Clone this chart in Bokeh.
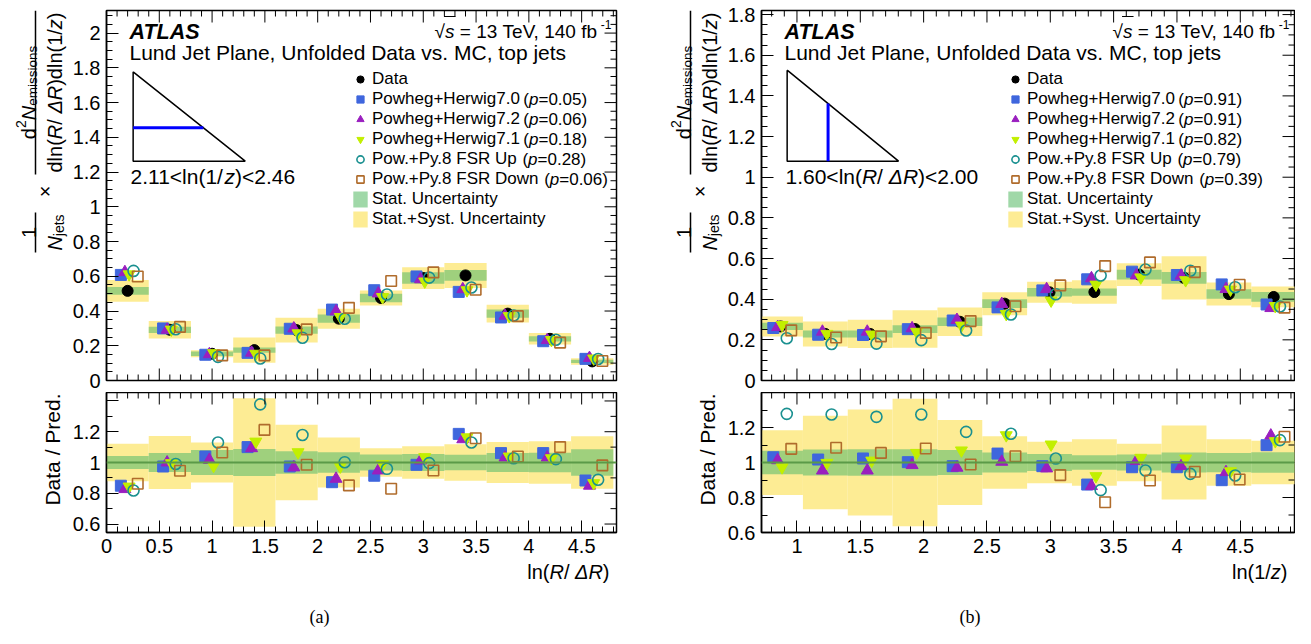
import math
import numpy as np
from bokeh.plotting import figure
from bokeh.layouts import row, column
from bokeh.models import (Range1d, Label, Legend, LegendItem, Span, SingleIntervalTicker,
                          CustomJSTickFormatter, Arrow)
from bokeh.embed import file_html
from bokeh.resources import INLINE

# ---------------- data : panel (a)  2.11 < ln(1/z) < 2.46, versus ln(R/dR) ----------------
edges_a = [0.0, 0.4, 0.8, 1.2, 1.6, 2.0, 2.4, 2.8, 3.2, 3.6, 4.0, 4.4, 4.8]
data_a = [0.516, 0.292, 0.154, 0.175, 0.290, 0.356, 0.475, 0.590, 0.605, 0.385, 0.240, 0.110]
stat_a = [0.043, 0.062, 0.081, 0.087, 0.073, 0.067, 0.052, 0.056, 0.051, 0.062, 0.064, 0.086]
tot_a = [0.122, 0.172, 0.130, 0.418, 0.245, 0.162, 0.092, 0.106, 0.119, 0.133, 0.138, 0.170]
ratio_a_h70 = [0.849, 0.974, 1.039, 1.100, 0.974, 0.872, 0.914, 0.985, 1.186, 1.061, 1.061, 0.883]
ratio_a_h72 = [0.827, 1.000, 1.017, 1.093, 0.968, 0.894, 0.948, 1.013, 1.151, 1.032, 1.032, 0.849]
ratio_a_h71 = [0.844, 0.996, 0.978, 1.136, 1.067, 0.974, 0.989, 1.035, 1.164, 1.039, 1.028, 0.866]
ratio_a_up = [0.818, 0.990, 1.130, 1.378, 1.179, 1.002, 0.959, 0.996, 1.130, 1.028, 1.022, 0.888]
ratio_a_down = [0.862, 0.946, 1.065, 1.212, 0.985, 0.851, 0.829, 0.948, 1.158, 1.039, 1.100, 0.981]
pvals_a = ["0.05", "0.06", "0.18", "0.28", "0.06"]

# ---------------- data : panel (b)  1.60 < ln(R/dR) < 2.00, versus ln(1/z) ----------------
edges_b = [0.693, 1.047, 1.401, 1.755, 2.109, 2.463, 2.817, 3.171, 3.525, 3.879, 4.233, 4.587, 4.941]
data_b = [0.266, 0.229, 0.229, 0.253, 0.289, 0.378, 0.434, 0.435, 0.521, 0.505, 0.425, 0.411]
stat_b = [0.067, 0.074, 0.076, 0.076, 0.072, 0.057, 0.048, 0.041, 0.046, 0.057, 0.055, 0.059]
tot_b = [0.185, 0.267, 0.303, 0.364, 0.243, 0.150, 0.118, 0.133, 0.107, 0.211, 0.133, 0.124]
ratio_b_h70 = [1.030, 1.017, 1.023, 1.002, 0.979, 1.051, 0.979, 0.874, 0.973, 0.973, 0.899, 1.099]
ratio_b_h72 = [1.013, 0.954, 0.954, 0.985, 0.970, 1.004, 0.966, 0.865, 1.008, 0.979, 0.945, 1.154]
ratio_b_h71 = [0.973, 0.998, 1.011, 1.055, 1.069, 1.156, 1.103, 0.922, 1.027, 1.023, 0.950, 1.122]
ratio_b_up = [1.278, 1.274, 1.261, 1.274, 1.175, 1.164, 1.023, 0.842, 0.954, 0.935, 0.926, 1.128]
ratio_b_down = [1.078, 1.084, 1.055, 1.080, 0.989, 1.036, 0.928, 0.773, 0.897, 0.947, 0.903, 1.147]
pvals_b = ["0.91", "0.91", "0.82", "0.79", "0.39"]

mc_names = ["Powheg+Herwig7.0", "Powheg+Herwig7.2", "Powheg+Herwig7.1",
            "Pow.+Py.8 FSR Up", "Pow.+Py.8 FSR Down"]

# ---------------- style ----------------
FONT = "Liberation Sans"
SERIF = "Liberation Serif"
YELLOW = "#fdec94"
GREEN = "#61be6e"
ONE_LINE = "#5b9a48"
NB = "\u00a0"
STYLES = [  # marker, colour, filled, size, offset (fraction of bin width)
    ("square", "#3f66dd", True, 11, -0.16),
    ("triangle", "#9a1fbf", True, 12, -0.065),
    ("inverted_triangle", "#c2ef00", True, 12, 0.035),
    ("circle", "#1a9090", False, 11, 0.14),
    ("square", "#b06c2c", False, 10.5, 0.24),
]

# Arial / Liberation Sans advance widths (em)
_W = {' ': .278, NB: .278, '(': .333, ')': .333, '+': .584, ',': .278, '-': .333, '.': .278,
      '/': .278, '<': .584, '=': .584, '>': .584, '\u00d7': .584, '\u221a': .549, '\u0394': .668}
for c in "0123456789":
    _W[c] = .556
_W.update(dict(zip("ABCDEFGHIJKLMNOPQRSTUVWXYZ",
                   [.667, .667, .722, .722, .667, .611, .778, .722, .278, .5, .667, .556, .833,
                    .722, .778, .667, .778, .722, .667, .611, .722, .667, .944, .667, .667, .611])))
_W.update(dict(zip("abcdefghijklmnopqrstuvwxyz",
                   [.556, .556, .5, .556, .556, .278, .556, .556, .222, .222, .5, .222, .833,
                    .556, .556, .556, .556, .333, .5, .278, .556, .5, .722, .5, .5, .5])))


def twidth(s, size):
    return sum(_W.get(c, .556) for c in s) * size


def add_text(p, FL, FB, runs, X, Y, align="left", rotated=False, baseline="alphabetic"):
    """runs: (text, size, style, shift[, font]); X,Y = page coords of the baseline anchor;
    FL, FB = page coords of the frame's left and bottom edges."""
    total = sum(twidth(r[0], r[1]) for r in runs)
    pos = {"left": 0.0, "center": -total / 2, "right": -total}[align]
    for r in runs:
        t, s, st, sh = r[:4]
        font = r[4] if len(r) > 4 else FONT
        if rotated:
            sx, sy, ang = (X - sh) - FL, FB - (Y - pos), math.pi / 2
        else:
            sx, sy, ang = X + pos - FL, FB - (Y - sh), 0.0
        p.add_layout(Label(x=sx, y=sy, x_units="screen", y_units="screen", text=t, angle=ang,
                           text_font=font, text_font_size=f"{s}px", text_font_style=st,
                           text_align="left", text_baseline=baseline, text_color="black"))
        pos += twidth(t, s)
    return total


def seg(p, FL, FB, X0, Y0, X1, Y1, w=1.5):
    p.add_layout(Arrow(end=None, x_start=X0 - FL, y_start=FB - Y0, x_end=X1 - FL, y_end=FB - Y1,
                       start_units="screen", end_units="screen", line_width=w, line_color="black"))


def tick_vals(lo, hi, step):
    k0 = math.ceil(lo / step - 1e-9)
    k1 = math.floor(hi / step + 1e-9)
    return [round(k * step, 6) for k in range(k0, k1 + 1)]


def mirror_ticks(p, xr, yr, FW, FH, xstep, xn, ystep, yn, sides, lmaj=12, lmin=6):
    x0, x1 = xr
    y0, y1 = yr
    dx = (x1 - x0) / FW
    dy = (y1 - y0) / FH
    xmaj = tick_vals(x0, x1, xstep)
    xmin = [v for v in tick_vals(x0, x1, xstep / xn) if all(abs(v - m) > 1e-6 for m in xmaj)]
    ymaj = tick_vals(y0, y1, ystep)
    ymin = [v for v in tick_vals(y0, y1, ystep / yn) if all(abs(v - m) > 1e-6 for m in ymaj)]
    a, b, c, d = [], [], [], []
    for side in sides:
        for vals, L in ((xmaj, lmaj), (xmin, lmin)) if side in ("top", "bottom") else ((ymaj, lmaj), (ymin, lmin)):
            for v in vals:
                if side == "bottom":
                    a.append(v); b.append(y0); c.append(v); d.append(y0 + L * dy)
                elif side == "top":
                    a.append(v); b.append(y1); c.append(v); d.append(y1 - L * dy)
                else:
                    a.append(x1); b.append(v); c.append(x1 - L * dx); d.append(v)
    p.segment(x0=a, y0=b, x1=c, y1=d, line_color="black", line_width=1)


def fmt(hide_above=99.0):
    return CustomJSTickFormatter(args=dict(h=hide_above), code="""
        const t = Math.round(tick*1000)/1000;
        if (t > h) { return ''; }
        return t.toString();""")


def style_axis(ax, lmaj=12, lmin=6):
    ax.major_tick_in = lmaj
    ax.major_tick_out = 0
    ax.minor_tick_in = lmin
    ax.minor_tick_out = 0
    ax.axis_line_width = 1.5
    ax.major_tick_line_width = 1
    ax.minor_tick_line_width = 1
    ax.major_label_text_font = FONT
    ax.major_label_text_font_size = "20px"
    ax.major_label_text_color = "black"
    ax.major_label_standoff = 6


def base_fig(w, h, xr, yr, bl, br, bt, bb, xaxis):
    p = figure(width=w, height=h, x_range=Range1d(*xr), y_range=Range1d(*yr),
               output_backend="svg", toolbar_location=None,
               x_axis_location="below" if xaxis else None,
               min_border_left=bl, min_border_right=br, min_border_top=bt, min_border_bottom=bb)
    p.grid.visible = False
    p.outline_line_color = "black"
    p.outline_line_width = 1.5
    p.background_fill_color = "white"
    p.border_fill_color = "white"
    return p


def strip(w, h, bl=0, br=0, bt=0, bb=0):
    s = figure(width=w, height=h, x_range=Range1d(0, 1), y_range=Range1d(0, 1),
               output_backend="svg", toolbar_location=None, x_axis_location=None,
               y_axis_location=None, min_border_left=bl, min_border_right=br,
               min_border_top=bt, min_border_bottom=bb)
    s.grid.visible = False
    s.outline_line_color = None
    s.background_fill_color = "white"
    s.border_fill_color = "white"
    return s


# page geometry (px)
FT, FB = 18, 388           # top pads
RT, RB = 400, 540          # ratio pads
PAGE_TOP, PAGE_BOT = 8, 636
STRIP_W = 69
LEG_X, LEG_Y, LEG_ROW, LEG_GW, LEG_SO, LEG_FS = 245, 151, 20, 18, 3, 17


def build_panel(edges, data, stat, tot, ratios, pvals, xr, yr_top, yr_rat,
                col_left, width, bl, br, inset, xtitle, caption, capx):
    edges = np.array(edges)
    lo, hi = edges[:-1], edges[1:]
    bw = hi - lo
    xc = 0.5 * (lo + hi)
    data = np.array(data)
    stat = np.array(stat)
    tot = np.array(tot)
    FL = col_left + bl
    FR = col_left + width - br
    FW = FR - FL

    # ---------------- top pad ----------------
    p = base_fig(width, 392, xr, yr_top, bl, br, FT - PAGE_TOP, 12, xaxis=False)
    p.yaxis.ticker = SingleIntervalTicker(interval=0.2, num_minor_ticks=4)
    p.yaxis.formatter = fmt()
    style_axis(p.yaxis[0])
    r_tot = p.quad(left=lo, right=hi, bottom=data * (1 - tot), top=data * (1 + tot),
                   fill_color=YELLOW, line_color=None)
    r_stat = p.quad(left=lo, right=hi, bottom=data * (1 - stat), top=data * (1 + stat),
                    fill_color=GREEN, fill_alpha=0.6, line_color=None)
    r_data = p.scatter(xc, data, marker="circle", size=11, fill_color="black", line_color="black")
    rends = []
    for (mk, col, filled, sz, off), rat in zip(STYLES, ratios):
        mc = data / np.array(rat)
        r = p.scatter(xc + off * bw, mc, marker=mk, size=sz,
                      fill_color=col if filled else None, line_color=col,
                      line_width=1 if filled else 1.6)
        rends.append(r)
    mirror_ticks(p, xr, yr_top, FW, FB - FT, 0.5, 5, 0.2, 4, ["bottom", "top", "right"])

    # legend: model names via Legend, "(p=...)" with italic p appended as labels
    items = [LegendItem(label="Data", renderers=[r_data])]
    for nm, r in zip(mc_names, rends):
        items.append(LegendItem(label=nm, renderers=[r]))
    items.append(LegendItem(label="Stat. Uncertainty", renderers=[r_stat]))
    items.append(LegendItem(label="Stat.+Syst. Uncertainty", renderers=[r_tot]))
    leg = Legend(items=items, location=(LEG_X, LEG_Y), glyph_width=LEG_GW, glyph_height=LEG_ROW,
                 label_height=LEG_ROW, label_standoff=LEG_SO, spacing=0, padding=0, margin=0,
                 border_line_color=None, background_fill_alpha=0,
                 label_text_font=FONT, label_text_font_size=f"{LEG_FS}px", label_text_color="black")
    p.add_layout(leg)
    n_items = len(items)
    for i, (nm, pv) in enumerate(zip(mc_names, pvals)):
        row_idx = i + 1
        yc_frame = LEG_Y + (n_items - row_idx - 0.5) * LEG_ROW
        Xp = FL + LEG_X + LEG_GW + LEG_SO + twidth(nm, LEG_FS) + 3
        add_text(p, FL, FB, [("(", LEG_FS, "normal", 0), ("p", LEG_FS, "italic", 0),
                             ("=" + pv + ")", LEG_FS, "normal", 0)],
                 Xp, FB - yc_frame, baseline="middle")

    # texts inside the pad
    add_text(p, FL, FB, [("ATLAS", 21.5, "bold italic", 0)], FL + 23, 39)
    add_text(p, FL, FB, [("Lund Jet Plane, Unfolded Data vs. MC, top jets", 21, "normal", 0)],
             FL + 23, 59.5)
    sq = [("\u221a", 19, "normal", 0), ("s", 19, "italic", 0),
          (NB + "=" + NB + "13" + NB + "TeV," + NB + "140" + NB + "fb", 19, "normal", 0),
          ("-1", 12, "normal", 7)]
    tot_w = add_text(p, FL, FB, sq, FR - 6, 39, align="right")
    x_s = FR - 6 - tot_w + twidth("\u221a", 19)
    seg(p, FL, FB, x_s - 1, 39 - 15, x_s + twidth("s", 19) + 1, 39 - 15, w=1.2)

    # inset triangle (Lund plane sketch)
    def d(X, Y):
        return (xr[0] + (X - FL) / FW * (xr[1] - xr[0]),
                yr_top[0] + (FB - Y) / (FB - FT) * (yr_top[1] - yr_top[0]))
    tri, bline, txt = inset
    pts = [d(*q) for q in tri + [tri[0]]]
    p.line([q[0] for q in pts], [q[1] for q in pts], line_color="black", line_width=1.5)
    s0, s1 = d(*bline[0]), d(*bline[1])
    p.line([s0[0], s1[0]], [s0[1], s1[1]], line_color="#0000ff", line_width=3)
    add_text(p, FL, FB, txt, FL + 24, 184)

    # ---------------- ratio pad ----------------
    q = base_fig(width, RB - FB - 12 + 30, xr, yr_rat, bl, br, 0, 30, xaxis=True)
    q.xaxis.ticker = SingleIntervalTicker(interval=0.5, num_minor_ticks=5)
    q.xaxis.formatter = fmt()
    q.yaxis.ticker = SingleIntervalTicker(interval=0.2, num_minor_ticks=2)
    q.yaxis.formatter = fmt(1.3)
    style_axis(q.xaxis[0])
    style_axis(q.yaxis[0])
    q.quad(left=lo, right=hi, bottom=1 - tot, top=1 + tot, fill_color=YELLOW, line_color=None)
    q.quad(left=lo, right=hi, bottom=1 - stat, top=1 + stat, fill_color=GREEN, fill_alpha=0.6,
           line_color=None)
    q.add_layout(Span(location=1.0, dimension="width", line_color=ONE_LINE, line_width=2))
    for (mk, col, filled, sz, off), rat in zip(STYLES, ratios):
        mc = data / np.array(rat)
        q.scatter(xc + off * bw, data / mc, marker=mk, size=sz,
                  fill_color=col if filled else None, line_color=col,
                  line_width=1 if filled else 1.6)
    mirror_ticks(q, xr, yr_rat, FW, RB - RT, 0.5, 5, 0.2, 2, ["top", "right"])

    # ---------------- bottom strip: x title + caption (frame aligned with the pads) -------------
    xs_top = RB + 30
    xs = strip(width, PAGE_BOT - xs_top, bl=bl, br=br)
    add_text(xs, FL, PAGE_BOT, xtitle, FR - 8, 579, align="right")
    add_text(xs, FL, PAGE_BOT, [(caption, 18, "normal", 0, SERIF)], capx, 624, align="center")

    # ---------------- left strip: y titles ----------------
    sl = FL - bl - STRIP_W
    ys = strip(STRIP_W, PAGE_BOT - PAGE_TOP, bt=FT - PAGE_TOP)
    den = [("dln(", 20, "normal", 0), ("R", 20, "italic", 0), ("/" + NB, 20, "normal", 0),
           ("\u0394R", 20, "italic", 0), (")dln(1/", 20, "normal", 0), ("z", 20, "italic", 0),
           (")", 20, "normal", 0)]
    num = [("d", 20, "normal", 0), ("2", 14, "normal", 8), ("N", 20, "italic", 0),
           ("emissions", 13.5, "normal", -4)]
    cy = 100
    L = add_text(ys, sl, PAGE_BOT, den, FL - 51, cy, align="center", rotated=True)
    add_text(ys, sl, PAGE_BOT, num, FL - 77, cy, align="center", rotated=True)
    seg(ys, sl, PAGE_BOT, FL - 70, cy + L / 2 + 2, FL - 70, cy - L / 2 - 2)
    add_text(ys, sl, PAGE_BOT, [("\u00d7", 20, "normal", 0)], FL - 61, 199, align="center", rotated=True)
    cy2 = 240
    add_text(ys, sl, PAGE_BOT, [("1", 20, "normal", 0)], FL - 77, cy2, align="center", rotated=True)
    L2 = add_text(ys, sl, PAGE_BOT, [("N", 20, "italic", 0), ("jets", 14, "normal", -4)],
                  FL - 51, cy2, align="center", rotated=True)
    seg(ys, sl, PAGE_BOT, FL - 70, cy2 + L2 / 2 + 2, FL - 70, cy2 - L2 / 2 - 2)
    add_text(ys, sl, PAGE_BOT, [("Data" + NB + "/" + NB + "Pred.", 21, "normal", 0)], FL - 53, RT + 1,
             align="right", rotated=True)

    return ys, column(p, q, xs)


ys_a, col_a = build_panel(
    edges_a, data_a, stat_a, tot_a,
    [ratio_a_h70, ratio_a_h72, ratio_a_h71, ratio_a_up, ratio_a_down], pvals_a,
    (0.0, 4.83), (0.0, 2.13), (0.545, 1.455),
    77, 586, 36, 39,
    ([(139.7, 79.3), (139.7, 168.7), (252.0, 168.7)], [(139.7, 135.3), (210.0, 135.3)],
     [("2.11<ln(1/", 21, "normal", 0), ("z", 21, "italic", 0), (")<2.46", 21, "normal", 0)]),
    [("ln(", 20, "normal", 0), ("R", 20, "italic", 0), ("/" + NB, 20, "normal", 0),
     ("\u0394R", 20, "italic", 0), (")", 20, "normal", 0)],
    "(a)", 327)

ys_b, col_b = build_panel(
    edges_b, data_b, stat_b, tot_b,
    [ratio_b_h70, ratio_b_h72, ratio_b_h71, ratio_b_up, ratio_b_down], pvals_b,
    (0.72, 4.928), (0.0, 1.82), (0.6, 1.4),
    732, 571, 36, 1,
    ([(793.7, 77.7), (793.7, 168.7), (905.3, 168.7)], [(834.7, 168.7), (834.7, 111.1)],
     [("1.60<ln(", 21, "normal", 0), ("R", 21, "italic", 0), ("/" + NB, 21, "normal", 0),
      ("\u0394R", 21, "italic", 0), (")<2.00", 21, "normal", 0)]),
    [("ln(1/", 20, "normal", 0), ("z", 20, "italic", 0), (")", 20, "normal", 0)],
    "(b)", 977)

layout = row(ys_a, col_a, ys_b, col_b)
open("out.html", "w").write(file_html(layout, INLINE))
